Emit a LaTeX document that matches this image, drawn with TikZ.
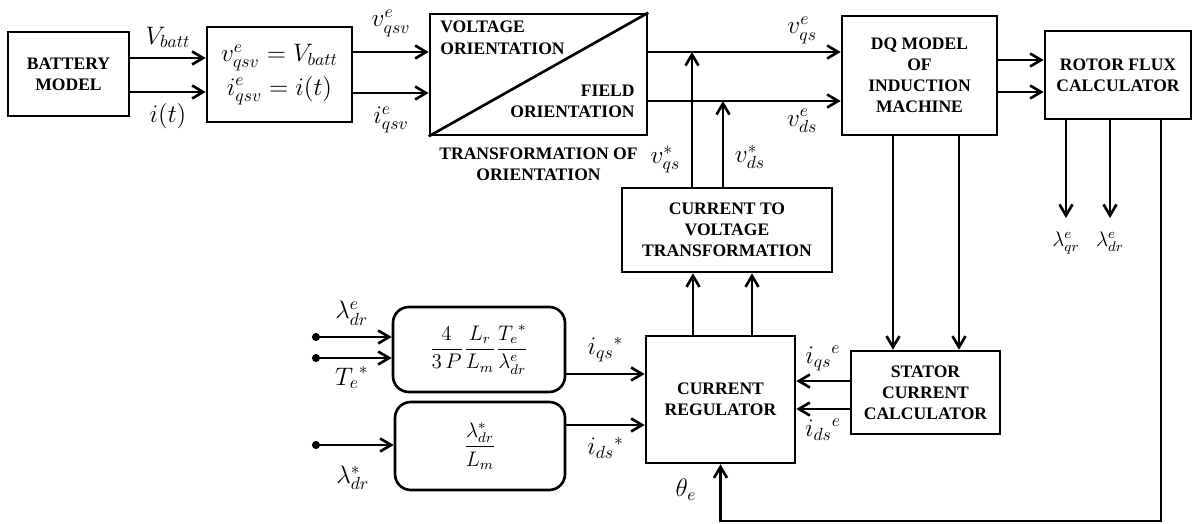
\documentclass[tikz,border=0pt]{standalone}
\usepackage{fontspec}
\setmainfont{Liberation Serif}
\usetikzlibrary{arrows.meta, positioning, calc}
\tikzset{
  bloque/.style={rectangle, draw=black, line width=1.5pt, fill=white, text centered,
                 font=\fontsize{10}{12}\selectfont\bfseries, align=center, inner sep=2pt},
  bloquer/.style={bloque, rounded corners=9pt, font=\large},
  arrow/.style={line width=1.5pt, -{Straight Barb[length=2.2mm, width=2.6mm, line width=1.5pt]}},
  entrada/.style={line width=1.5pt, {Circle[length=4.5pt]}-{Straight Barb[length=2.2mm, width=2.6mm, line width=1.5pt]}},
  linea/.style={line width=1.5pt},
  etiq/.style={font=\Large, inner sep=1pt}
}
\begin{document}
\begin{tikzpicture}[x=0.02cm, y=-0.02cm]
  \useasboundingbox (0,0) rectangle (1194,524);
  % bloques
  \node (bat) [bloque, minimum width=2.42cm, minimum height=1.68cm] at (68.5,74) {BATTERY\\ MODEL};
  \node (eq) [bloque, font=\fontsize{14.5}{19}\selectfont, minimum width=2.9cm, minimum height=1.9cm] at (279.5,74.5)
        {$v^e_{qsv} = V_{batt}$\\ $i^e_{qsv} = i(t)$};
  \node (tr) [bloque, minimum width=4.34cm, minimum height=2.42cm] at (538.5,74.5) {};
  \node (dq) [bloque, minimum width=3.1cm, minimum height=2.38cm] at (919.5,75.5) {DQ MODEL\\ OF\\ INDUCTION\\ MACHINE};
  \node (rf) [bloque, minimum width=2.92cm, minimum height=1.76cm] at (1118,75) {ROTOR FLUX\\ CALCULATOR};
  \node (ctv) [bloque, minimum width=4.2cm, minimum height=1.68cm] at (727,230) {CURRENT TO\\ VOLTAGE\\ TRANSFORMATION};
  \node (cr) [bloque, minimum width=2.98cm, minimum height=2.54cm] at (720.5,399.5) {CURRENT\\ REGULATOR};
  \node (scc) [bloque, minimum width=2.98cm, minimum height=1.66cm] at (925.5,392.5) {STATOR\\ CURRENT\\ CALCULATOR};
  \node (g1) [bloquer, minimum width=3.44cm, minimum height=1.7cm] at (479,349.5)
        {$\displaystyle\frac{4}{3\,P}\frac{L_r}{L_m}\frac{{T_e}^{*}}{\lambda^e_{dr}}$};
  \node (g2) [bloquer, minimum width=3.4cm, minimum height=1.76cm] at (480,446) {$\displaystyle\frac{\lambda^*_{dr}}{L_m}$};
  % bloque de orientacion
  \draw [linea] (tr.south west) -- (tr.north east);
  \node (vo) [font=\fontsize{10}{12}\selectfont\bfseries, align=left, anchor=north west, inner sep=0pt]
        at (440,21) {VOLTAGE\\ ORIENTATION};
  \node (fo) [font=\fontsize{10}{12}\selectfont\bfseries, align=right, anchor=south east, inner sep=0pt]
        at (635,118) {FIELD\\ ORIENTATION};
  \node (tro) [font=\fontsize{10}{12}\selectfont\bfseries, align=center, below=3pt of tr] {TRANSFORMATION OF\\ ORIENTATION};
  % puntos auxiliares
  \coordinate (jq) at (692,52);
  \coordinate (jd) at (723,101);
  \coordinate (fb) at (1161,521);
  \coordinate (lqr) at (1066,218);
  \coordinate (ldr) at (1110,218);
  \coordinate (in1) at (312,337);
  \coordinate (in2) at (312,358);
  \coordinate (in3) at (312,445);
  % flechas
  \draw [arrow] (bat.east |- 0,58) -- (eq.west |- 0,58) node[etiq, midway, above=4pt] {$V_{batt}$};
  \draw [arrow] (bat.east |- 0,92) -- (eq.west |- 0,92) node[etiq, midway, below=5pt] {$i(t)$};
  \draw [arrow] (eq.east |- 0,52) -- (tr.west |- 0,52) node[etiq, midway, above=7pt] {$v^e_{qsv}$};
  \draw [arrow] (eq.east |- 0,93) -- (tr.west |- 0,93) node[etiq, midway, below=6pt] {$i^e_{qsv}$};
  \draw [arrow] (tr.east |- 0,52) -- (dq.west |- 0,52) node[etiq, pos=0.8, above=3pt] {$v^e_{qs}$};
  \draw [arrow] (tr.east |- 0,101) -- (dq.west |- 0,101) node[etiq, pos=0.8, below=3pt] {$v^e_{ds}$};
  \draw [arrow] (ctv.north -| jq) -- (jq) node[etiq, pos=0.2, left=5pt] {$v^*_{qs}$};
  \draw [arrow] (ctv.north -| jd) -- (jd) node[etiq, pos=0.35, right=5pt] {$v^*_{ds}$};
  \draw [arrow] (dq.east |- 0,60) -- (rf.west |- 0,60);
  \draw [arrow] (dq.east |- 0,92) -- (rf.west |- 0,92);
  \draw [arrow] (rf.south -| lqr) -- (lqr) node[etiq, below=6pt, font=\large] {$\lambda^e_{qr}$};
  \draw [arrow] (rf.south -| ldr) -- (ldr) node[etiq, below=6pt, font=\large] {$\lambda^e_{dr}$};
  \draw [arrow] (rf.south -| fb) |- (cr.south |- fb) -- (cr.south) node[etiq, pos=0.55, left=12pt] {$\theta_e$};
  \draw [arrow] (dq.south -| 893,0) -- (scc.north -| 893,0);
  \draw [arrow] (dq.south -| 959,0) -- (scc.north -| 959,0);
  \draw [arrow] (scc.west |- 0,381) -- (cr.east |- 0,381) node[etiq, midway, above=4pt] {${i_{qs}}^e$};
  \draw [arrow] (scc.west |- 0,409) -- (cr.east |- 0,409) node[etiq, midway, below=4pt] {${i_{ds}}^e$};
  \draw [arrow] (cr.north -| 693,0) -- (ctv.south -| 693,0);
  \draw [arrow] (cr.north -| 752,0) -- (ctv.south -| 752,0);
  \draw [arrow] (g1.east |- 0,374) -- (cr.west |- 0,374) node[etiq, midway, above=5pt] {${i_{qs}}^*$};
  \draw [arrow] (g2.east |- 0,425) -- (cr.west |- 0,425) node[etiq, midway, below=5pt] {${i_{ds}}^*$};
  \draw [entrada] (in1) -- (g1.west |- in1) node[etiq, midway, above=5pt] {$\lambda^e_{dr}$};
  \draw [entrada] (in2) -- (g1.west |- in2) node[etiq, midway, below=3pt] {${T_e}^*$};
  \draw [entrada] (in3) -- (g2.west |- in3) node[etiq, midway, below=10pt] {$\lambda^*_{dr}$};
\end{tikzpicture}
\end{document}
